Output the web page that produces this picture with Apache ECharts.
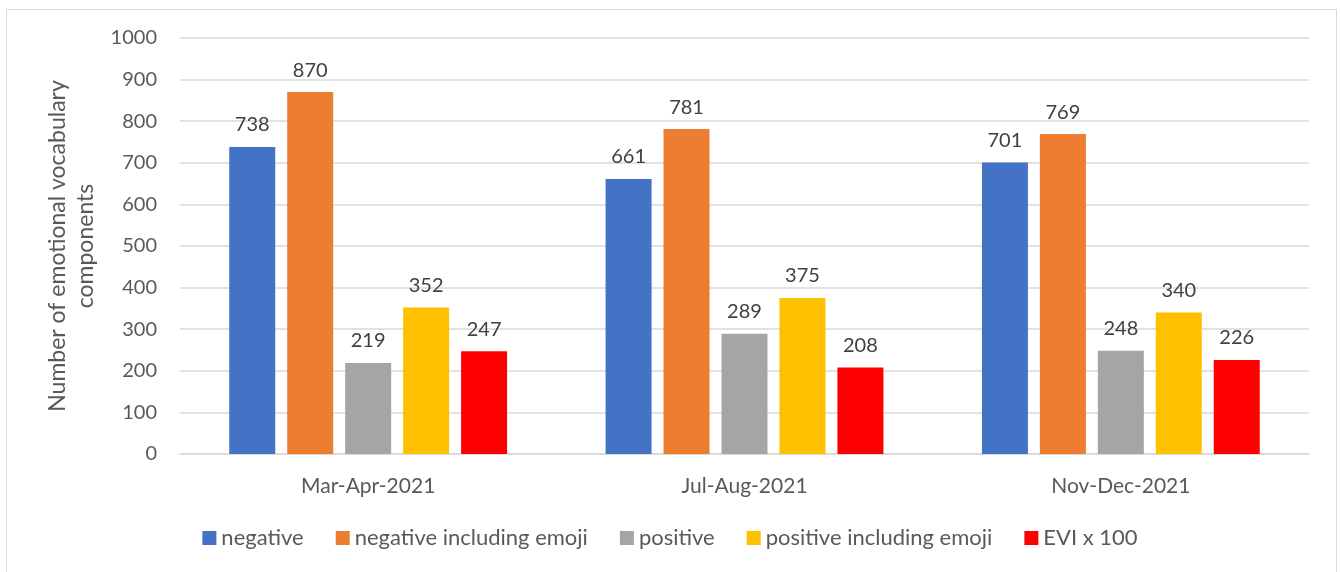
<!DOCTYPE html>
<html>
<head>
<meta charset="utf-8">
<script src="https://cdn.jsdelivr.net/npm/echarts@6/dist/echarts.min.js"></script>
<style>
  html, body { margin: 0; padding: 0; background: #fff; }
  #frame { position: absolute; left: 6px; top: 9px; width: 1331px; height: 580px; border: 1px solid #d9d9d9; box-sizing: border-box; }
  #chart { position: absolute; left: 0; top: 0; width: 1340px; height: 572px; }
</style>
</head>
<body>
<div id="frame"></div>
<div id="chart"></div>
<script>
// periods on the x axis
var periods = ['Mar-Apr-2021', 'Jul-Aug-2021', 'Nov-Dec-2021'];
// values per series
var negative = [738, 661, 701];
var negativeEmoji = [870, 781, 769];
var positive = [219, 289, 248];
var positiveEmoji = [352, 375, 340];
var evi100 = [247, 208, 226];
var seriesNames = ['negative', 'negative including emoji', 'positive', 'positive including emoji', 'EVI x 100'];
var colors = ['#4472c4', '#ed7d31', '#a5a5a5', '#ffc000', '#ff0000'];

var font = 'Lato, "Open Sans", sans-serif';
var chart = echarts.init(document.getElementById('chart'));

function bar(name, data) {
  return {
    name: name,
    type: 'bar',
    data: data,
    barWidth: 46,
    barGap: '26%',
    label: {
      show: true,
      position: 'top',
      distance: 12,
      color: '#404040',
      fontFamily: font,
      fontSize: 20
    }
  };
}

chart.setOption({
  color: colors,
  animation: false,
  textStyle: { fontFamily: font },
  grid: { left: 180, right: 31, top: 38, bottom: 118 },
  legend: {
    bottom: 18,
    left: 'center',
    itemWidth: 14,
    itemHeight: 14,
    itemGap: 32,
    icon: 'rect',
    textStyle: { color: '#595959', fontSize: 22, fontFamily: font },
    data: seriesNames
  },
  xAxis: {
    type: 'category',
    data: periods,
    axisTick: { show: false },
    axisLine: { lineStyle: { color: '#d9d9d9', width: 1.5 } },
    axisLabel: { color: '#595959', fontSize: 21, fontFamily: font, margin: 22 }
  },
  yAxis: {
    type: 'value',
    min: 0,
    max: 1000,
    interval: 100,
    name: 'Number of emotional vocabulary\ncomponents',
    nameLocation: 'middle',
    nameGap: 80,
    nameTextStyle: { color: '#595959', fontSize: 23, fontFamily: font, lineHeight: 28 },
    axisLabel: {
      color: '#595959', fontSize: 20, fontFamily: font, margin: 23,
      formatter: function (v) { return String(v); }
    },
    splitLine: { lineStyle: { color: '#d9d9d9', width: 1.5 } }
  },
  series: [
    bar(seriesNames[0], negative),
    bar(seriesNames[1], negativeEmoji),
    bar(seriesNames[2], positive),
    bar(seriesNames[3], positiveEmoji),
    bar(seriesNames[4], evi100)
  ]
});
</script>
</body>
</html>
